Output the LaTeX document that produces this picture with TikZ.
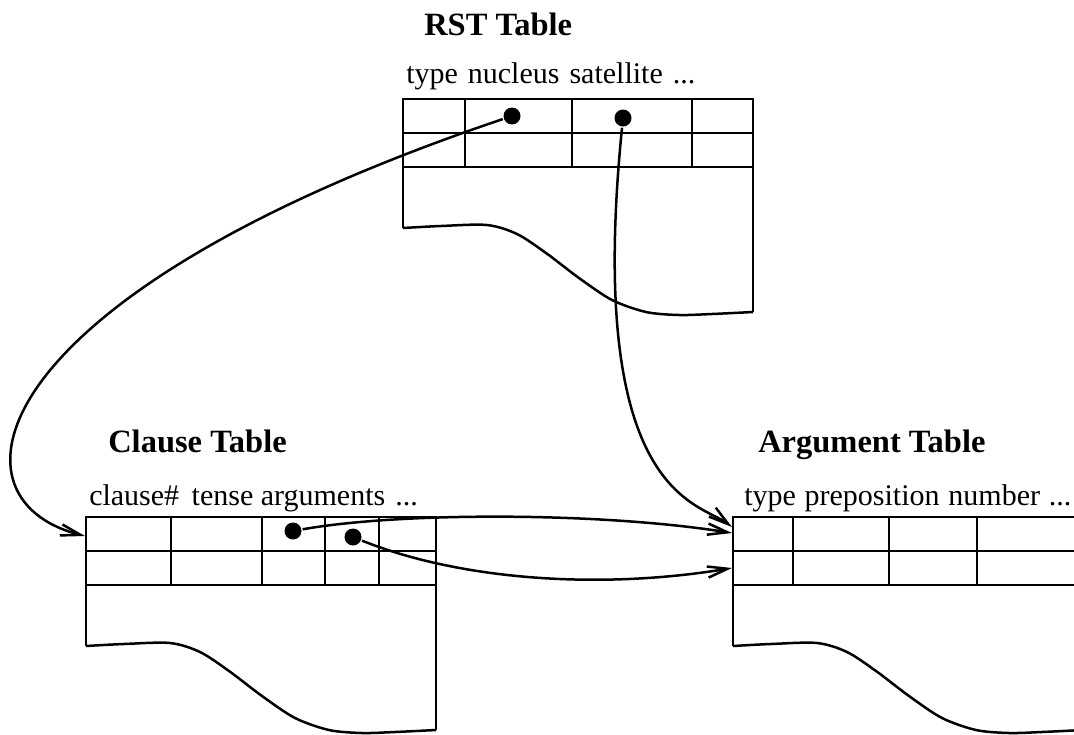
\documentclass[tikz,border=0pt]{standalone}
\usepackage{fontspec}
\setmainfont{Liberation Serif}
\usetikzlibrary{arrows.meta}
% outline of one table: header rows and torn-off bottom
\newcommand{\tableshape}[1]{%
  \draw (0,129) -- (0,0) -- (350,0) -- (350,213);
  \draw (0,34) -- (350,34) (0,68) -- (350,68);
  \foreach \c in {#1} \draw (\c,0) -- (\c,68);
  \draw plot[smooth] coordinates {(0,129) (38,127) (84,126) (114,135) (143,154)
    (176,179) (209,201) (243,213) (276,216) (309,215) (350,213)};}
\begin{document}
\begin{tikzpicture}[x=0.4pt, y=-0.4pt, line width=1pt,
  title/.style={font=\fontsize{13}{15}\selectfont\bfseries, anchor=base west, inner sep=0pt},
  head/.style={font=\fontsize{12}{14}\selectfont, anchor=base west, inner sep=0pt},
  dot/.style={circle, fill, inner sep=0pt, minimum size=6.8pt},
  link/.style={-{Straight Barb[length=8pt,width=4.5pt]}, line width=1pt}]
\useasboundingbox (0,0) rectangle (1074,734);
\clip (0,0) rectangle (1074,734);

% RST table
\node[title] (rsttitle) at (423,35) {RST Table};
\node[head] (rsthead) at (405,83) {type\hspace{1pt} nucleus\hspace{1pt} satellite\hspace{1pt} ...};
\begin{scope}[shift={(403,99)}]
  \tableshape{62,169,289}
\end{scope}

% clause table
\node[title] (cltitle) at (107,452) {Clause Table};
\node[head] (clhead) at (88,505) {clause\#\hspace{2pt} tense arguments\hspace{1pt} ...};
\begin{scope}[shift={(86,517)}]
  \tableshape{85,176,239,293}
\end{scope}

% argument table
\node[title] (argtitle) at (757,452) {Argument Table};
\node[head] (arghead) at (743,505) {type\hspace{0.5pt} preposition\hspace{0.5pt} number\hspace{0.5pt} ...};
\begin{scope}[shift={(733,517)}]
  \tableshape{60,156,244}
\end{scope}

% pointers
\node[dot] (nuc) at (512,116) {};
\node[dot] (sat) at (623,118) {};
\node[dot] (argp) at (293,531) {};
\node[dot] (argq) at (353,537) {};
\coordinate (clin) at (85,536);
\coordinate (argin1) at (732,527);
\coordinate (argin2) at (732,533);
\coordinate (argin3) at (732,568);

\draw[link] (nuc) .. controls (-19,295) and (-61,499) .. (clin);
\draw[link] (sat) .. controls (585,496) and (699,502) .. (argin1);
\draw[link] (argp) .. controls (400,512) and (600,512) .. (argin2);
\draw[link] (argq) .. controls (460,580) and (600,590) .. (argin3);
\end{tikzpicture}
\end{document}
